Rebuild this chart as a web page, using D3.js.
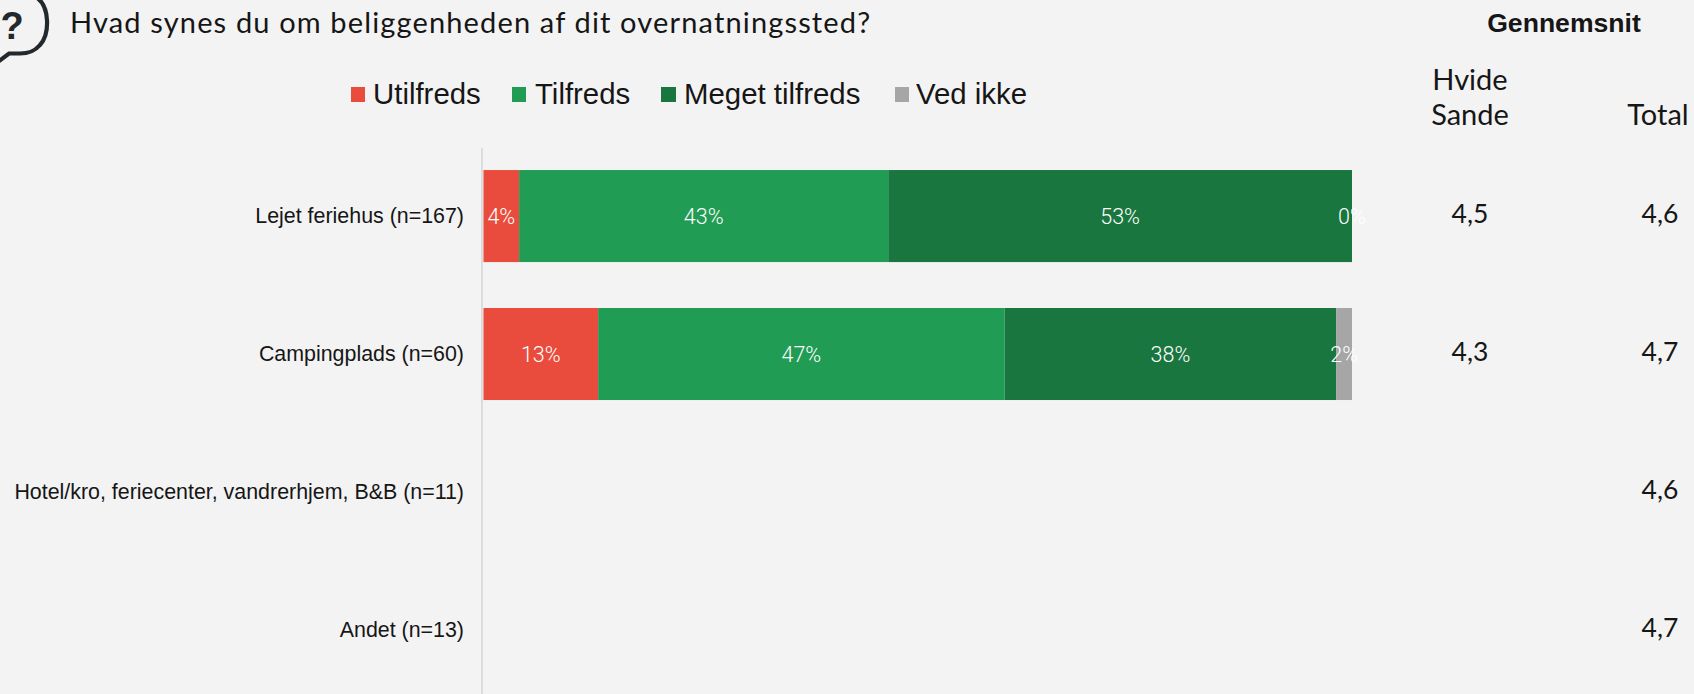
<!DOCTYPE html>
<html><head><meta charset="utf-8">
<script src="https://cdn.jsdelivr.net/npm/d3@7"></script>
<style>html,body{margin:0;padding:0;background:#f3f3f3;overflow:hidden}svg{display:block}</style>
</head><body><svg id="c" width="1694" height="694"></svg>
<script>
const title="Hvad synes du om beliggenheden af dit overnatningssted?";
const categories=["Lejet feriehus (n=167)","Campingplads (n=60)","Hotel/kro, feriecenter, vandrerhjem, B&B (n=11)","Andet (n=13)"];
const seriesNames=["Utilfreds","Tilfreds","Meget tilfreds","Ved ikke"];
const seriesColors=["#e94b3c","#209c54","#19763e","#a6a6a6"];
const utilfreds=[4.1,13.2,null,null];
const tilfreds=[42.5,46.8,null,null];
const megetTilfreds=[53.4,38.2,null,null];
const vedIkke=[0,1.8,null,null];
const labelsUtilfreds=["4%","13%",null,null];
const labelsTilfreds=["43%","47%",null,null];
const labelsMeget=["53%","38%",null,null];
const labelsVedIkke=["0%","2%",null,null];
const avgHvideSande=["4,5","4,3",null,null];
const avgTotal=["4,6","4,7","4,6","4,7"];
const series=[utilfreds,tilfreds,megetTilfreds,vedIkke];
const seriesLabels=[labelsUtilfreds,labelsTilfreds,labelsMeget,labelsVedIkke];

const svg=d3.select("#c");
const geo="Lato, 'Open Sans', sans-serif";
const arial="'Liberation Sans', Arial, sans-serif";
const ink="#161616";
const x=d3.scaleLinear().domain([0,100]).range([483.5,1352]);
const y=d3.scaleBand().domain(categories).range([147,699]).paddingInner(0.333).paddingOuter(0.167);

// icon
const ic=svg.append("g").attr("fill","none").attr("stroke","#22282b").attr("stroke-width",4.2).attr("stroke-linecap","round");
ic.append("path").attr("d","M36,-3 C50,6 50,34 40,45 C34,52 28,53.500 20,53.500 L9,53.500 L-1,61");
svg.append("text").attr("x",12).attr("y",39).attr("text-anchor","middle").attr("font-family",arial).attr("font-weight",700).attr("font-size",38).attr("fill","#22282b").text("?");

svg.append("text").attr("x",70).attr("y",33).attr("font-family",geo).attr("font-weight",400).attr("font-size",29).attr("letter-spacing",1.15).attr("fill",ink).text(title);

// legend
const legendX=[351,512,661,895], legendTextX=[373,535,684,916];
seriesNames.forEach((n,i)=>{
  svg.append("rect").attr("x",legendX[i]).attr("y",87).attr("width",i==2?15:14).attr("height",15).attr("fill",seriesColors[i]);
  svg.append("text").attr("x",legendTextX[i]).attr("y",104).attr("font-family",arial).attr("font-size",29.4).attr("fill",ink).text(n);
});

// table heads
const head=(t,xp,yp,o={})=>svg.append("text").attr("x",xp).attr("y",yp).attr("text-anchor",o.a||"middle").attr("font-family",o.f||geo).attr("font-weight",o.w||400).attr("font-size",o.s||29).attr("fill",ink).text(t);
head("Gennemsnit",1564,32,{f:arial,w:700,s:26.6});
head("Hvide",1470,90);
head("Sande",1470,125);
head("Total",1658,125);

// axis
const ax=svg.append("g").attr("transform","translate(482,0)").call(d3.axisLeft(y).tickSize(0).tickPadding(18));
ax.select(".domain").attr("stroke","#dcdcdc").attr("stroke-width",2).attr("d","M0,148V694");
ax.selectAll("text").attr("font-family",arial).attr("font-size",21.4).attr("fill",ink);

// bars
const cum=categories.map(()=>0);
series.forEach((s,k)=>{
  s.forEach((v,i)=>{
    if(v==null) return;
    const x0=cum[i]; cum[i]+=v;
    const c=categories[i];
    if(v>0) svg.append("rect").attr("x",x(x0)).attr("y",y(c)).attr("width",x(x0+v)-x(x0)).attr("height",y.bandwidth()).attr("fill",seriesColors[k]);
    const t=seriesLabels[k][i];
    svg.append("text").attr("x",x(x0+v/2)).attr("y",y(c)+y.bandwidth()/2+7.500).attr("text-anchor","middle").attr("font-family","Roboto, sans-serif").attr("font-weight",300).attr("font-size",21.5).attr("fill","#fff").text(t);
  });
});

// averages
categories.forEach((c,i)=>{
  const cy=y(c)+y.bandwidth()/2-1;
  if(avgHvideSande[i]) head(avgHvideSande[i],1470,cy+8,{s:26.5});
  head(avgTotal[i],1660,cy+8,{s:26.5});
});
</script></body></html>
